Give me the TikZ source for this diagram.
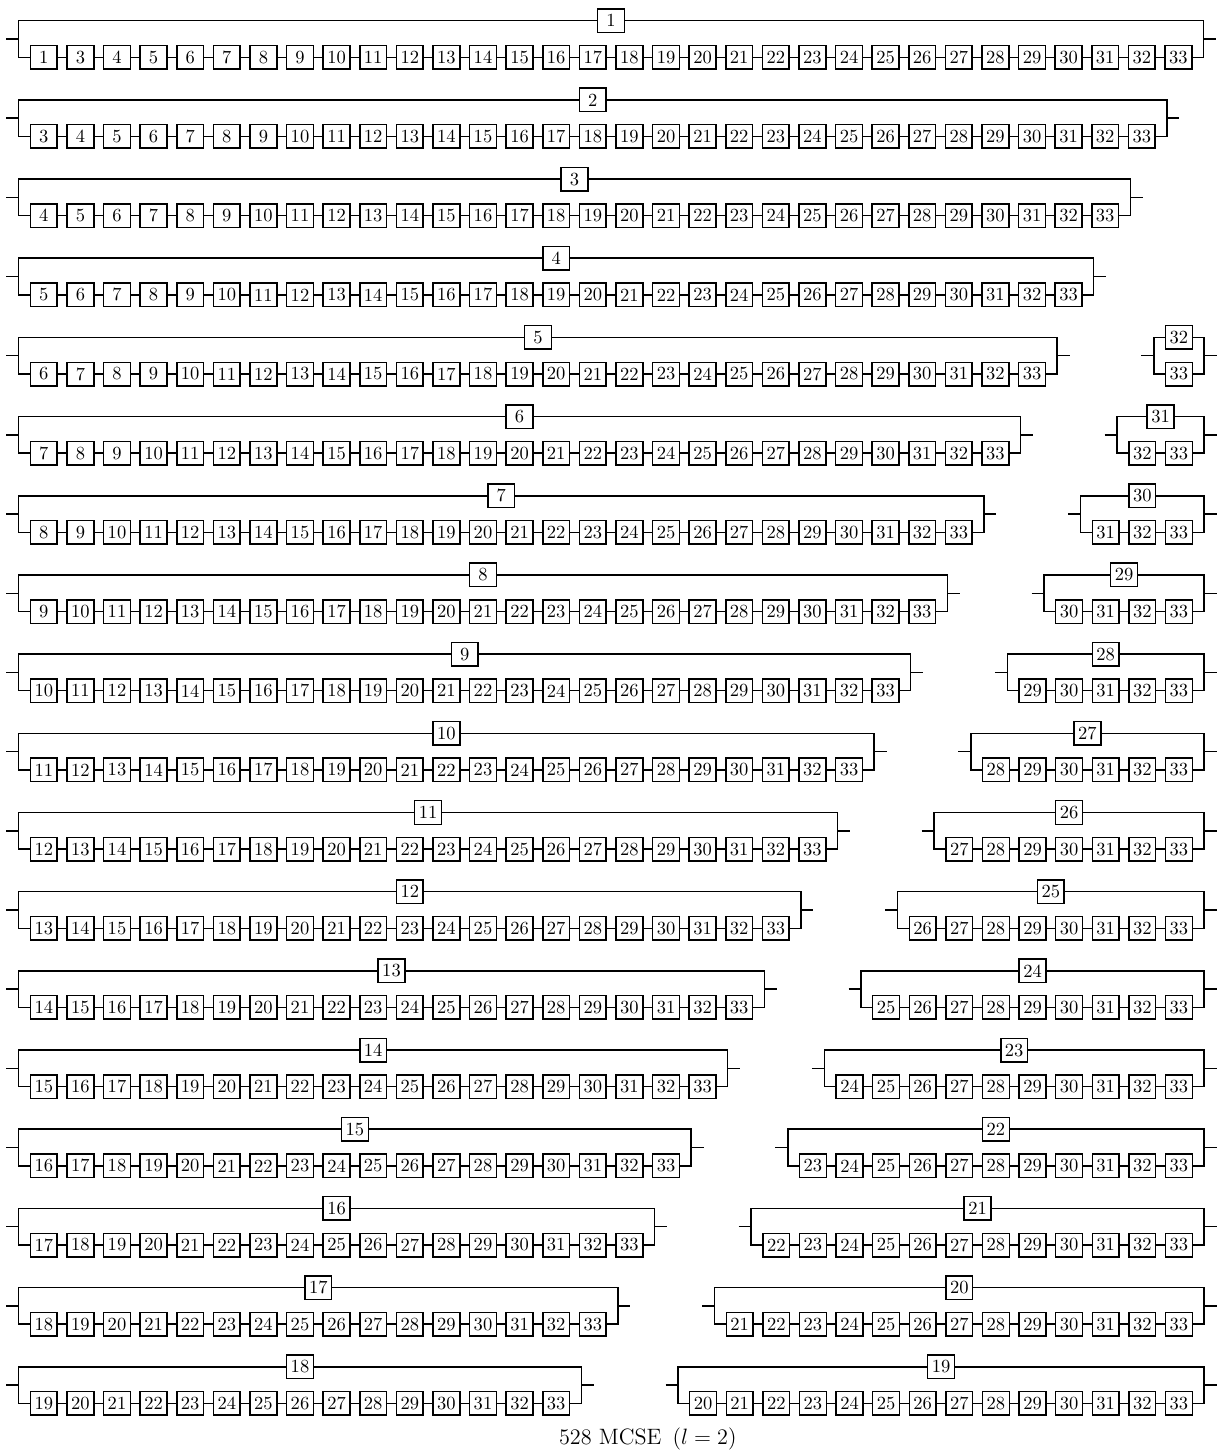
\documentclass[tikz,border=0pt]{standalone}
\begin{document}
\begin{tikzpicture}[x=0.54pt,y=-0.54pt,
  link/.style={line width=0.8pt},
  cbox/.style={draw,line width=0.8pt,minimum width=14.45pt,minimum height=12.7pt,inner sep=0pt,
    font=\fontsize{10}{12}\selectfont,fill=white}]
\useasboundingbox (0,0) rectangle (1219,1456);
\foreach \i in {1,...,32}{
  \ifnum\i<19
    \pgfmathtruncatemacro{\row}{\i}
    \pgfmathtruncatemacro{\n}{\i==1 ? 32 : 33-\i}
    \pgfmathsetmacro{\xl}{18.7}
  \else
    \pgfmathtruncatemacro{\row}{37-\i}
    \pgfmathtruncatemacro{\n}{33-\i}
    \pgfmathsetmacro{\xl}{1204-(23.4+\n*26.8+(\n-1)*9.8)}
  \fi
  \pgfmathsetmacro{\yt}{20.7+(\row-1)*79.18}
  \pgfmathsetmacro{\yb}{\yt+36.6}
  \pgfmathsetmacro{\ym}{\yt+18.3}
  \pgfmathsetmacro{\xr}{\xl+23.4+\n*26.8+(\n-1)*9.8}
  \pgfmathsetmacro{\xc}{(\xl+\xr)/2}
  \pgfmathtruncatemacro{\nm}{\n-1}
  \coordinate (in\i) at (\xl-12.5,\ym);
  \coordinate (lm\i) at (\xl,\ym);
  \coordinate (tl\i) at (\xl,\yt);
  \coordinate (bl\i) at (\xl,\yb);
  \coordinate (tr\i) at (\xr,\yt);
  \coordinate (br\i) at (\xr,\yb);
  \coordinate (rm\i) at (\xr,\ym);
  \coordinate (out\i) at (\xr+12.5,\ym);
  \node[cbox] (t\i) at (\xc,\yt) {\i};
  \foreach \m in {0,...,\nm}{
    \pgfmathtruncatemacro{\lab}{\i==1 ? (\m==0 ? 1 : \m+2) : \i+1+\m}
    \node[cbox] (b\i-\m) at (\xl+11.7+13.4+\m*36.6,\yb) {\lab};
  }
  \draw[link] (in\i) -- (lm\i);
  \draw[link] (rm\i) -- (out\i);
  \draw[link] (t\i.west) -- (tl\i) -- (bl\i) -- (b\i-0.west);
  \draw[link] (t\i.east) -- (tr\i) -- (br\i) -- (b\i-\nm.east);
  \ifnum\nm>0
    \foreach \m [evaluate=\m as \mn using int(\m+1)] in {0,...,\numexpr\nm-1\relax}{
      \draw[link] (b\i-\m.east) -- (b\i-\mn.west);
    }
  \fi
}
\node[anchor=base,font=\fontsize{12}{14.4}\selectfont,inner sep=0pt] (cap) at (647.8,1444.5) {528 MCSE\hspace{6pt}($l=2$)};
\end{tikzpicture}
\end{document}
